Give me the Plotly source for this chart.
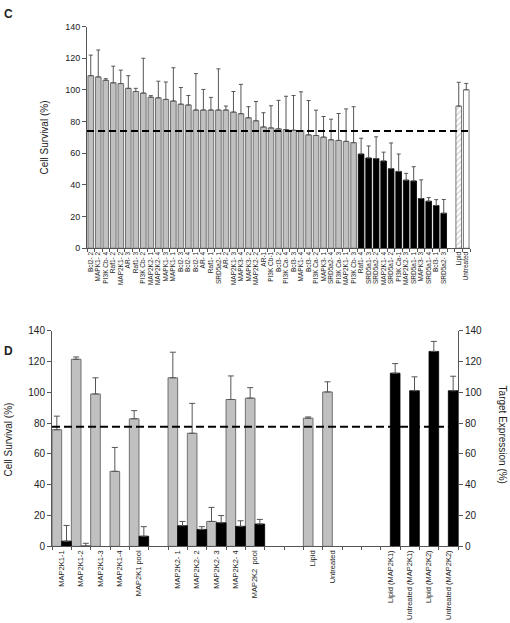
import plotly.graph_objects as go

# ---------------- Panel C data ----------------
c_gray_labels = ["Bcl2- 2", "MAPK1- 2", "PI3K Cb- 4", "Raf1- 2", "MAP2K1- 2", "AR- 3", "Raf1- 3",
                 "PI3K Cb- 2", "MAP2K2- 1", "MAP2K2- 4", "MAPK1- 3", "MAPK1- 1", "Bcl2- 3", "Bcl2- 4",
                 "Bcl2- 1", "AR- 4", "Raf1- 1", "SRD5a2- 1", "AR- 2", "MAP2K1- 3", "MAPK3- 4", "MAPK3- 2",
                 "MAP2K2- 2", "AR-1", "PI3K Cb-1", "Bcl3- 2", "PI3K Ca- 4", "Bcl3- 3", "MAPK1- 4", "Bcl3- 4",
                 "PI3K Ca- 2", "MAPK3- 1", "SRD5a2- 4", "PI3K Ca- 3", "MAP2K1- 1", "PI3K Cb- 3"]
c_gray_values = [109, 108.2, 106.1, 104.5, 104, 101, 99, 98, 95.4, 95, 94, 93, 91, 90.5,
                 87.3, 87.3, 87.3, 87.3, 87.3, 86, 85, 82.4, 80.5, 76.6, 76, 75.4, 75, 74.5, 74.3, 71.6,
                 71.2, 70.2, 68.5, 68.1, 67.5, 66.7]
c_gray_err = [13, 17, 1, 10.5, 8.5, 8, 2, 22, 1, 10.5, 11, 21, 10.5, 6,
              23, 13, 8, 26, 2.5, 13, 18.5, 7, 12.2, 9, 14, 18, 21, 22, 24.5, 21.7,
              16, 13, 13, 17, 20.5, 22.7]
c_black_labels = ["Raf1- 4", "SRD5a1- 3", "SRD5a2- 2", "MAP2K1- 4", "SRD5a1- 2", "PI3K Ca-1",
                  "MAP2K2- 3", "SRD5a1- 1", "MAPK3- 3", "SRD5a1- 4", "Bcl3- 1", "SRD5a2- 3"]
c_black_values = [59.5, 57, 56.6, 55.1, 50.2, 48.5, 43, 42.5, 31.4, 29.7, 27, 22.1]
c_black_err = [10, 7.6, 13.8, 5.6, 16.3, 11, 4.3, 9, 11.8, 2.3, 3.7, 8.7]
c_lipid_label = ["Lipid"]
c_lipid_value = [89.8]
c_lipid_err = [15]
c_untr_label = ["Untreated"]
c_untr_value = [100.1]
c_untr_err = [4]
c_threshold = 74
c_categories = c_gray_labels + c_black_labels + [" "] + c_lipid_label + c_untr_label

# ---------------- Panel D data ----------------
d_categories = ["MAP2K1-1", "MAP2K1-2", "MAP2K1-3", "MAP2K1-4", "MAP2K1 pool", " ",
                "MAP2K2- 1", "MAP2K2- 2", "MAP2K2- 3", "MAP2K2- 4", "MAP2K2  pool", "  ", "   ",
                "Lipid", "Untreated", "    ", "     ",
                "Lipid (MAP2K1)", "Untreated (MAP2K1)", "Lipid (MAP2K2)", "Untreated (MAP2K2)"]
d_surv_labels = ["MAP2K1-1", "MAP2K1-2", "MAP2K1-3", "MAP2K1-4", "MAP2K1 pool",
                 "MAP2K2- 1", "MAP2K2- 2", "MAP2K2- 3", "MAP2K2- 4", "MAP2K2  pool",
                 "Lipid", "Untreated"]
d_surv_values = [75.7, 121.4, 98.9, 48.7, 82.8, 109.4, 73.4, 16.2, 95.3, 96.2, 83.2, 100.2]
d_surv_err = [8.8, 1.5, 10.5, 15.5, 5.3, 16.6, 19.4, 9.1, 15.3, 6.8, 0.8, 6.6]
d_expr_labels = ["MAP2K1-1", "MAP2K1-2", "MAP2K1-3", "MAP2K1-4", "MAP2K1 pool",
                 "MAP2K2- 1", "MAP2K2- 2", "MAP2K2- 3", "MAP2K2- 4", "MAP2K2  pool",
                 "Lipid (MAP2K1)", "Untreated (MAP2K1)", "Lipid (MAP2K2)", "Untreated (MAP2K2)"]
d_expr_values = [3.4, 0.2, None, None, 6.6, 13.4, 11, 15.3, 13, 14.5, 112.4, 101, 126.5, 101]
d_expr_err = [10.2, 1.8, 0, 0, 6.2, 2.8, 1.8, 4.7, 3.6, 3, 6.2, 9, 6.5, 9.4]
d_threshold = 77.7

FONT = "Liberation Sans, Arial, sans-serif"
AX = "#555555"
GRAY = "#c0c0c0"

fig = go.Figure()

def up_err(err, color=AX, width=2):
    return dict(type="data", symmetric=False, array=err, arrayminus=[0] * len(err),
                color=color, thickness=1, width=width)

# Panel C
fig.add_trace(go.Bar(x=c_gray_labels, y=c_gray_values, error_y=up_err(c_gray_err),
                     marker=dict(color=GRAY, line=dict(color=AX, width=0.8)),
                     xaxis="x", yaxis="y", showlegend=False))
fig.add_trace(go.Bar(x=c_black_labels, y=c_black_values, error_y=up_err(c_black_err),
                     marker=dict(color="black", line=dict(color="black", width=0.8)),
                     xaxis="x", yaxis="y", showlegend=False))
fig.add_trace(go.Bar(x=c_lipid_label, y=c_lipid_value, error_y=up_err(c_lipid_err),
                     marker=dict(color="white", line=dict(color=AX, width=0.8),
                                 pattern=dict(shape="/", fgcolor="#888888", bgcolor="white",
                                              size=4, solidity=0.25)),
                     xaxis="x", yaxis="y", showlegend=False))
fig.add_trace(go.Bar(x=c_untr_label, y=c_untr_value, error_y=up_err(c_untr_err),
                     marker=dict(color="white", line=dict(color=AX, width=0.8)),
                     xaxis="x", yaxis="y", showlegend=False))

# Panel D
fig.add_trace(go.Bar(x=d_surv_labels, y=d_surv_values, error_y=up_err(d_surv_err, width=3),
                     offset=-0.5, width=0.5,
                     marker=dict(color=GRAY, line=dict(color=AX, width=0.8)),
                     xaxis="x2", yaxis="y2", showlegend=False))
fig.add_trace(go.Bar(x=d_expr_labels, y=d_expr_values, error_y=up_err(d_expr_err, width=3),
                     offset=0, width=0.5,
                     marker=dict(color="black", line=dict(color="black", width=0.8)),
                     xaxis="x2", yaxis="y3", showlegend=False))

common_x = dict(type="category", tickson="boundaries", ticks="outside", ticklen=3,
                tickcolor=AX, showline=True, linecolor=AX, linewidth=1, showgrid=False,
                tickangle=-90, zeroline=False, tickmode="linear", tick0=0, dtick=1)
common_y = dict(range=[0, 140], dtick=20, ticks="outside", ticklen=4, tickcolor=AX,
                showline=True, linecolor=AX, linewidth=1, showgrid=False, zeroline=False)

fig.update_layout(
    width=510, height=623, margin=dict(l=0, r=0, t=0, b=0),
    paper_bgcolor="white", plot_bgcolor="white",
    font=dict(family=FONT, color="#222222"),
    barmode="overlay", bargap=0.25,
    xaxis=dict(common_x, domain=[87 / 510, 470 / 510], anchor="y",
               categoryorder="array", categoryarray=c_categories,
               range=[-0.5, len(c_categories) - 0.5],
               tickfont=dict(size=6.5, family=FONT)),
    yaxis=dict(common_y, domain=[1 - 247 / 623, 1 - 21 / 623], anchor="x",
               tickfont=dict(size=9, family=FONT)),
    xaxis2=dict(common_x, domain=[52 / 510, 458 / 510], anchor="y2",
                categoryorder="array", categoryarray=d_categories,
                range=[-0.5, len(d_categories) - 0.5],
                tickfont=dict(size=7.5, family=FONT)),
    yaxis2=dict(common_y, domain=[1 - 551 / 623, 1 - 331 / 623], anchor="x2",
                tickfont=dict(size=10, family=FONT)),
    yaxis3=dict(common_y, overlaying="y2", side="right", anchor="x2",
                tickfont=dict(size=10, family=FONT)),
    shapes=[
        dict(type="line", xref="x domain", yref="y", x0=0, x1=1, y0=c_threshold, y1=c_threshold,
             line=dict(color="black", width=2, dash="7px,4px")),
        dict(type="line", xref="x2 domain", yref="y2", x0=0, x1=1, y0=d_threshold, y1=d_threshold,
             line=dict(color="black", width=2, dash="8px,4px")),
    ],
    annotations=[
        dict(text="<b>C</b>", x=2 / 510, y=1 - 8 / 623, xref="paper", yref="paper",
             xanchor="left", yanchor="middle", showarrow=False, font=dict(size=12, family=FONT)),
        dict(text="<b>D</b>", x=2 / 510, y=1 - 352 / 623, xref="paper", yref="paper",
             xanchor="left", yanchor="middle", showarrow=False, font=dict(size=12, family=FONT)),
        dict(text="Cell Survival (%)", x=44 / 510, y=1 - 134 / 623, xref="paper", yref="paper",
             textangle=-90, showarrow=False, xanchor="center", yanchor="middle",
             font=dict(size=10, family=FONT)),
        dict(text="Cell Survival (%)", x=8 / 510, y=1 - 442 / 623, xref="paper", yref="paper",
             textangle=-90, showarrow=False, xanchor="center", yanchor="middle",
             font=dict(size=10, family=FONT)),
        dict(text="Target Expression (%)", x=502 / 510, y=1 - 437 / 623, xref="paper", yref="paper",
             textangle=90, showarrow=False, xanchor="center", yanchor="middle",
             font=dict(size=10, family=FONT, color="#222222")),
    ],
)

fig.write_html("out.html", config={"displayModeBar": False},
               post_script="document.body.style.margin='0';document.body.style.overflow='hidden';")
